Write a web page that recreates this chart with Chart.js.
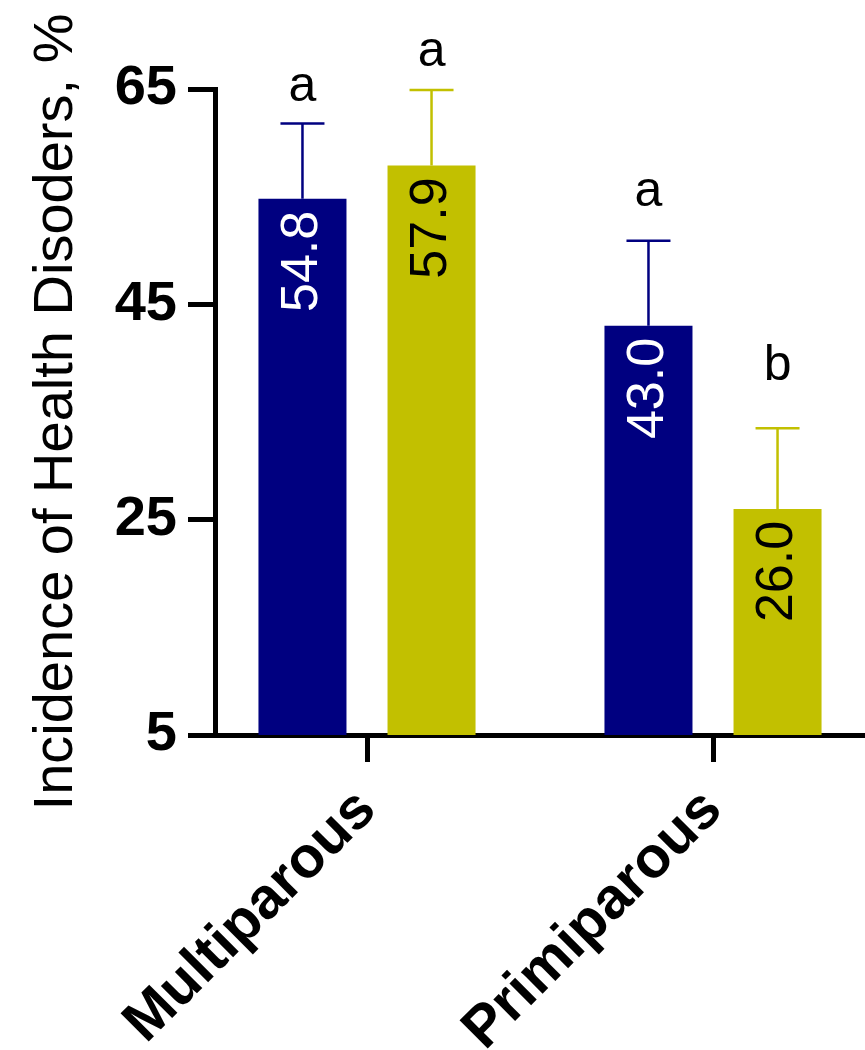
<!DOCTYPE html>
<html>
<head>
<meta charset="utf-8">
<script src="https://cdn.jsdelivr.net/npm/chart.js@4.4.1/dist/chart.umd.min.js"></script>
<style>
  html, body { margin: 0; padding: 0; background: #ffffff; overflow: hidden; }
  #wrap { width: 865px; height: 1050px; position: relative; }
</style>
</head>
<body>
<div id="wrap"><canvas id="c" width="865" height="1050"></canvas></div>
<script>
// ---- data ----
const categories = ['Multiparous', 'Primiparous'];
const seriesNames = ['Series 1', 'Series 2'];
const blueValues = [54.8, 43.0];
const yellowValues = [57.9, 26.0];
const blueErrors = [7.0, 7.9];
const yellowErrors = [7.0, 7.5];
const blueLetters = ['a', 'a'];
const yellowLetters = ['a', 'b'];
const yTicks = [5, 25, 45, 65];
const yTitle = 'Incidence of Health Disoders, %';

// ---- styles ----
const FONT = "'Liberation Sans', Arial, Helvetica, sans-serif";
const BLUE = '#000080';
const YELLOW = '#c2c000';
const series = [
  { values: blueValues, errors: blueErrors, letters: blueLetters, color: BLUE, labelColor: '#ffffff', letterGaps: [22, 35] },
  { values: yellowValues, errors: yellowErrors, letters: yellowLetters, color: YELLOW, labelColor: '#000000', letterGaps: [24, 48] }
];

const annotatePlugin = {
  id: 'annotate',
  afterDatasetsDraw(chart) {
    const ctx = chart.ctx;
    const yScale = chart.scales.y;
    series.forEach((s, d) => {
      const meta = chart.getDatasetMeta(d);
      meta.data.forEach((bar, i) => {
        const x = bar.x;
        const topY = bar.y;
        const errY = yScale.getPixelForValue(s.values[i] + s.errors[i]);
        // error bar
        ctx.save();
        ctx.strokeStyle = s.color;
        ctx.lineWidth = 2.5;
        ctx.beginPath();
        ctx.moveTo(x, topY);
        ctx.lineTo(x, errY);
        ctx.moveTo(x - 22, errY);
        ctx.lineTo(x + 22, errY);
        ctx.stroke();
        ctx.restore();
        // significance letter
        ctx.save();
        ctx.fillStyle = '#000000';
        ctx.font = '50px ' + FONT;
        ctx.textAlign = 'center';
        ctx.textBaseline = 'alphabetic';
        ctx.fillText(s.letters[i], x, errY - s.letterGaps[i]);
        ctx.restore();
        // value label inside bar
        ctx.save();
        ctx.translate(x, topY + 12);
        ctx.rotate(-Math.PI / 2);
        ctx.fillStyle = s.labelColor;
        ctx.font = '52px ' + FONT;
        ctx.textAlign = 'right';
        ctx.textBaseline = 'middle';
        ctx.fillText(s.values[i].toFixed(1), 0, 0);
        ctx.restore();
      });
    });
  }
};

new Chart(document.getElementById('c'), {
  type: 'bar',
  data: {
    datasets: series.map((s, d) => ({
      label: seriesNames[d],
      data: categories.map((c, i) => ({ x: i, y: s.values[i] })),
      backgroundColor: s.color,
      borderWidth: 0,
      categoryPercentage: 0.746,
      barPercentage: 0.682
    }))
  },
  options: {
    responsive: false,
    animation: false,
    devicePixelRatio: 1,
    layout: { padding: { top: 89, right: 2, left: 0, bottom: 0 } },
    plugins: { legend: { display: false }, tooltip: { enabled: false } },
    scales: {
      x: {
        type: 'linear',
        offset: false,
        min: -0.4393,
        max: 1.4335,
        afterBuildTicks: (s) => { s.ticks = categories.map((c, i) => ({ value: i })); },
        afterFit: (s) => { s.height = 315; },
        grid: { display: true, offset: false, drawOnChartArea: false, drawTicks: true, tickLength: 27, color: '#000000', lineWidth: 5 },
        border: { display: true, color: '#000000', width: 5 },
        ticks: {
          autoSkip: false,
          minRotation: 45,
          maxRotation: 45,
          padding: 14,
          color: '#000000',
          font: { family: FONT, size: 58, weight: 'bold' },
          callback: (v) => categories[v]
        }
      },
      y: {
        min: yTicks[0],
        max: yTicks[yTicks.length - 1],
        afterBuildTicks: (s) => { s.ticks = yTicks.map(v => ({ value: v })); },
        afterFit: (s) => { s.width = 215; },
        grid: { display: true, drawOnChartArea: false, drawTicks: true, tickLength: 27, color: '#000000', lineWidth: 5 },
        border: { display: true, color: '#000000', width: 5 },
        ticks: {
          padding: 11,
          color: '#000000',
          font: { family: FONT, size: 56, weight: 'bold' }
        },
        title: {
          display: true,
          text: yTitle,
          color: '#000000',
          font: { family: FONT, size: 56, weight: 'normal' },
          padding: { top: 23, bottom: 0 }
        }
      }
    }
  },
  plugins: [annotatePlugin]
});
</script>
</body>
</html>
